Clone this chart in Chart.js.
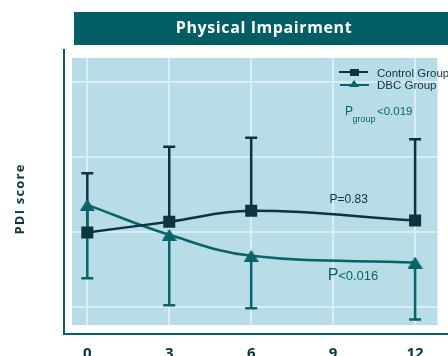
<!DOCTYPE html>
<html>
<head>
<meta charset="utf-8">
<script src="https://cdn.jsdelivr.net/npm/chart.js@4.4.1/dist/chart.umd.min.js"></script>
<style>
  html, body { margin: 0; padding: 0; background: #ffffff; }
  #wrap { width: 448px; height: 356px; overflow: hidden; }
</style>
</head>
<body>
<div id="wrap"><canvas id="chart" width="448" height="356"></canvas></div>
<script>
// months after baseline
const months = [0, 3, 6, 12];
const xTicks = [0, 3, 6, 9, 12];
const yGrid = [10, 20, 30, 40];

// PDI score means and SD (whisker shown up for control, down for DBC)
const controlMean = [19.9, 21.35, 22.8, 21.5];
const controlSD = [7.9, 10.0, 9.75, 10.85];
const dbcMean = [23.6, 19.6, 16.8, 15.9];
const dbcSD = [9.8, 9.4, 7.0, 7.6];

const NAVY = '#0c3541';
const TEAL = '#08646a';
const BG = '#b8dde6';
const GRID = '#dcedf1';

// triangle marker as image so it sits centred on its box
function makeTriangle(w, h, color) {
    var c = document.createElement('canvas');
    c.width = w; c.height = h;
    var g = c.getContext('2d');
    g.fillStyle = color;
    g.beginPath();
    g.moveTo(w / 2, 0);
    g.lineTo(w, h);
    g.lineTo(0, h);
    g.closePath();
    g.fill();
    return c;
}
const triangle = makeTriangle(15, 12, TEAL);

function drawBars(chart, index, sd, dir, color) {
    var meta = chart.getDatasetMeta(index);
    var ys = chart.scales.y;
    var ctx = chart.ctx;
    var means = chart.data.datasets[index].data;
    ctx.save();
    ctx.strokeStyle = color;
    ctx.lineWidth = 2.5;
    meta.data.forEach(function (pt, i) {
        var yEnd = ys.getPixelForValue(means[i].y + dir * sd[i]);
        ctx.beginPath();
        ctx.moveTo(pt.x, pt.y);
        ctx.lineTo(pt.x, yEnd);
        ctx.moveTo(pt.x - 6, yEnd);
        ctx.lineTo(pt.x + 6, yEnd);
        ctx.stroke();
    });
    ctx.restore();
}

const decor = {
    id: 'decor',
    beforeDraw(chart) {
        var ctx = chart.ctx, a = chart.chartArea;
        ctx.save();
        ctx.fillStyle = '#ffffff';
        ctx.fillRect(0, 0, chart.width, chart.height);
        ctx.fillStyle = BG;
        ctx.fillRect(a.left, a.top, a.right - a.left, a.bottom - a.top);
        ctx.restore();
    },
    beforeDatasetsDraw(chart) {
        drawBars(chart, 0, controlSD, 1, NAVY);
        drawBars(chart, 1, dbcSD, -1, TEAL);
    },
    afterDraw(chart) {
        var ctx = chart.ctx;
        var xs = chart.scales.x, ys = chart.scales.y;
        ctx.save();

        // title bar
        ctx.fillStyle = '#005e64';
        ctx.fillRect(74, 12, 374, 33);
        ctx.fillStyle = '#ffffff';
        ctx.font = 'bold 16px "Open Sans"';
        ctx.letterSpacing = '0.6px';
        ctx.textAlign = 'center';
        ctx.textBaseline = 'middle';
        ctx.fillText('Physical Impairment', 264, 28);

        // frame
        ctx.strokeStyle = '#0a5f66';
        ctx.lineWidth = 2;
        ctx.beginPath();
        ctx.moveTo(64, 49);
        ctx.lineTo(64, 334);
        ctx.lineTo(448, 334);
        ctx.stroke();

        // y title
        ctx.save();
        ctx.translate(20, 199);
        ctx.rotate(-Math.PI / 2);
        ctx.fillStyle = NAVY;
        ctx.font = 'bold 13px "Open Sans"';
        ctx.letterSpacing = '1.2px';
        ctx.fillText('PDI score', 0, 0);
        ctx.restore();
        ctx.letterSpacing = '0px';

        // legend
        ctx.lineWidth = 2;
        ctx.strokeStyle = NAVY;
        ctx.beginPath(); ctx.moveTo(339, 72); ctx.lineTo(368, 72); ctx.stroke();
        ctx.fillStyle = NAVY;
        ctx.fillRect(350, 69, 9, 7);
        ctx.strokeStyle = TEAL;
        ctx.beginPath(); ctx.moveTo(340, 85); ctx.lineTo(369, 85); ctx.stroke();
        ctx.drawImage(makeTriangle(10, 7, TEAL), 349, 80);
        ctx.textAlign = 'left';
        ctx.textBaseline = 'alphabetic';
        ctx.fillStyle = NAVY;
        ctx.font = '11.5px "Liberation Sans"';
        ctx.fillText('Control Group', 377, 77);
        ctx.fillText('DBC Group', 377, 89);

        // p values
        ctx.fillStyle = TEAL;
        ctx.font = '12px "Liberation Sans"';
        ctx.fillText('P', 345, 115);
        ctx.font = '9px "Liberation Sans"';
        ctx.fillText('group', 352.5, 122);
        ctx.font = '11.5px "Liberation Sans"';
        ctx.fillText('<0.019', 377, 115);

        ctx.fillStyle = NAVY;
        ctx.font = '12px "Liberation Sans"';
        ctx.fillText('P=0.83', xs.getPixelForValue(8.87), ys.getPixelForValue(23.85));

        ctx.fillStyle = TEAL;
        ctx.font = '16px "Liberation Sans"';
        ctx.fillText('P', xs.getPixelForValue(8.8), ys.getPixelForValue(13.6));
        ctx.font = '13px "Liberation Sans"';
        ctx.fillText('<0.016', xs.getPixelForValue(8.8) + 10.5, ys.getPixelForValue(13.6));
        ctx.restore();
    }
};

new Chart(document.getElementById('chart').getContext('2d'), {
    type: 'line',
    data: {
        datasets: [
            {
                label: 'Control Group',
                data: months.map((m, i) => ({ x: m, y: controlMean[i] })),
                borderColor: NAVY,
                backgroundColor: NAVY,
                borderWidth: 2.5,
                pointStyle: 'rect',
                pointRadius: 8.5,
                pointBorderWidth: 0,
                tension: 0.4
            },
            {
                label: 'DBC Group',
                data: months.map((m, i) => ({ x: m, y: dbcMean[i] })),
                borderColor: TEAL,
                backgroundColor: TEAL,
                borderWidth: 2.5,
                pointStyle: triangle,
                pointRadius: 8,
                tension: 0.4
            }
        ]
    },
    options: {
        responsive: false,
        animation: false,
        devicePixelRatio: 1,
        layout: { padding: { top: 58, left: 0, right: 0, bottom: 0 } },
        plugins: { legend: { display: false }, tooltip: { enabled: false } },
        scales: {
            x: {
                type: 'linear',
                min: -0.56,
                max: 12.82,
                afterBuildTicks: s => { s.ticks = xTicks.map(v => ({ value: v })); },
                afterFit: s => { s.height = 31; },
                grid: { color: GRID, lineWidth: 2, drawTicks: false },
                border: { display: false },
                ticks: {
                    padding: 20,
                    color: NAVY,
                    font: { family: '"Open Sans"', size: 15, weight: 'bold' }
                }
            },
            y: {
                type: 'linear',
                min: 7.56,
                max: 43.2,
                afterBuildTicks: s => { s.ticks = yGrid.map(v => ({ value: v })); },
                afterFit: s => { s.width = 72; },
                grid: { color: GRID, lineWidth: 2, drawTicks: false },
                border: { display: false },
                ticks: { display: false }
            }
        }
    },
    plugins: [decor]
});
</script>
</body>
</html>
